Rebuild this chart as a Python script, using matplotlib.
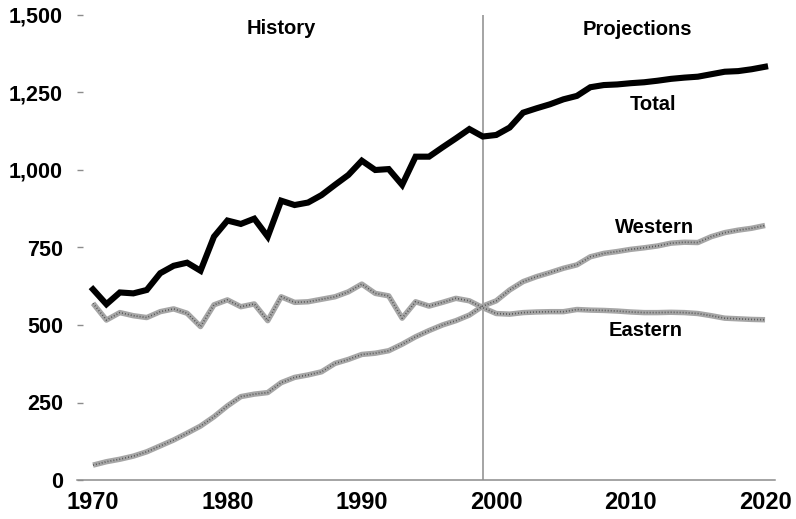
import matplotlib
matplotlib.use("Agg")
import matplotlib.pyplot as plt
import numpy as np

years = list(range(1970, 2021))

total = [615, 567, 605, 602, 613, 667, 691, 701, 675, 785,
         837, 826, 843, 785, 901, 887, 895, 919, 952, 984,
         1030, 1000, 1003, 952, 1043, 1043, 1073, 1102, 1132, 1108,
         1113, 1137, 1185, 1199, 1212, 1228, 1239, 1267, 1274, 1276,
         1280, 1283, 1288, 1294, 1298, 1301, 1309, 1317, 1319, 1325,
         1333]

eastern = [570, 516, 540, 530, 524, 543, 552, 538, 495, 565,
           581, 559, 568, 514, 591, 573, 575, 583, 591, 607,
           632, 602, 594, 522, 575, 561, 573, 586, 578, 556,
           537, 535, 540, 542, 543, 543, 550, 548, 547, 545,
           542, 540, 540, 541, 540, 537, 530, 522, 520, 518,
           517]

western = [48, 59, 67, 77, 91, 110, 129, 151, 174, 204,
           239, 269, 277, 282, 314, 331, 339, 349, 376, 389,
           405, 409, 417, 438, 462, 482, 500, 514, 532, 561,
           578, 613, 640, 656, 669, 683, 694, 720, 731, 737,
           744, 749, 755, 764, 767, 766, 785, 798, 806, 812,
           821]

x_ticks = [1970, 1980, 1990, 2000, 2010, 2020]
y_ticks = [0, 250, 500, 750, 1000, 1250, 1500]
y_labels = ["0", "250", "500", "750", "1,000", "1,250", "1,500"]
divider_year = 1999

fig = plt.figure(figsize=(7.96, 5.19), dpi=100)
ax = fig.add_axes([77/796, 39/519, 698/796, 465/519])

def grey_line(x, y):
    ax.plot(x, y, color="#a6a6a6", lw=3.9, solid_capstyle="butt", zorder=2)
    ax.plot(x, y, color="#4a4a4a", lw=1.2, linestyle=(0, (0.5, 1.3)), zorder=3)

grey_line(years, western)
grey_line(years, eastern)
ax.plot(years, total, color="black", lw=4.4, solid_joinstyle="miter", zorder=4)

ax.axvline(divider_year, color="#8c8c8c", lw=1.1, zorder=1)

ax.set_xlim(1968.81, 2020.74)
ax.set_ylim(0, 1500)

for s in ["top", "right", "left"]:
    ax.spines[s].set_visible(False)
ax.spines["bottom"].set_color("#8c8c8c")
ax.spines["bottom"].set_linewidth(1.1)

ax.set_yticks(y_ticks)
ax.set_yticklabels(y_labels, fontfamily=["Liberation Sans", "DejaVu Sans"],
                   fontweight="bold", fontsize=15.5)
ax.tick_params(axis="y", direction="in", length=4, width=1, color="#8c8c8c", pad=10)

ax.set_xticks(x_ticks)
ax.set_xticklabels([str(v) for v in x_ticks],
                   fontfamily=["Liberation Sans", "DejaVu Sans"],
                   fontweight="bold", fontsize=17)
ax.tick_params(axis="x", length=0, pad=8)

lab = dict(fontfamily=["Liberation Sans", "DejaVu Sans"], fontweight="bold",
           fontsize=14.5, ha="center", va="center")
ax.text(1984.0, 1458, "History", **lab)
ax.text(2010.5, 1452, "Projections", **lab)
ax.text(2011.7, 1210, "Total", **lab)
ax.text(2011.8, 813, "Western", **lab)
ax.text(2011.1, 481, "Eastern", **lab)

fig.savefig("out.png", dpi=100)
